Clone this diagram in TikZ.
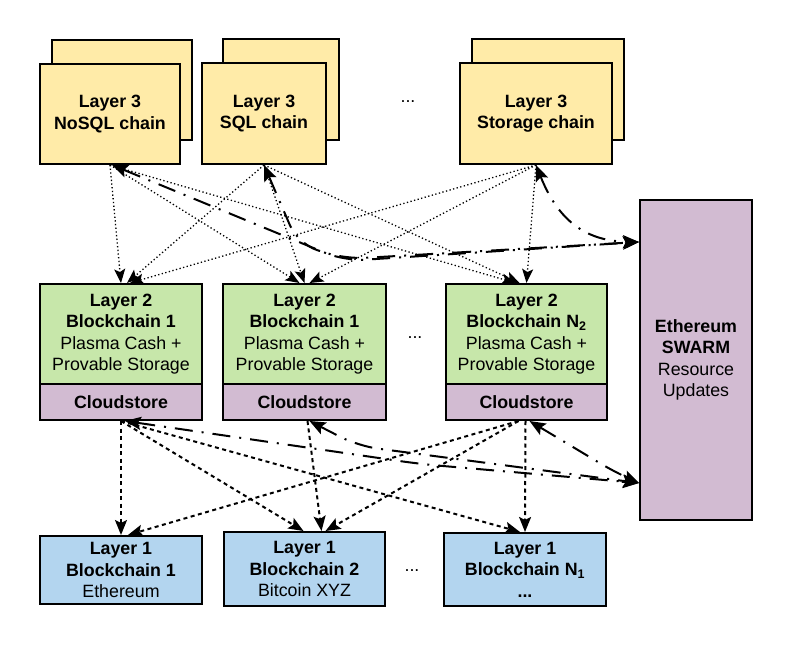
\documentclass[tikz,border=0pt]{standalone}
\usepackage{fontspec}
\setmainfont{Liberation Sans}
\usetikzlibrary{arrows.meta,calc}
\definecolor{lthree}{HTML}{FFEBA8}
\definecolor{ltwo}{HTML}{C7E7AA}
\definecolor{cstore}{HTML}{D2BBD2}
\definecolor{lone}{HTML}{B3D5EF}
\begin{document}
\begin{tikzpicture}[x=1pt,y=-1pt,
  box/.style={draw=black,line width=2pt,inner sep=0pt,align=center,text=black,
    font=\fontsize{17.8}{21.5}\selectfont},
  l3box/.style={box,fill=lthree},
  l2box/.style={box,fill=ltwo},
  csbox/.style={box,fill=cstore},
  l1box/.style={box,fill=lone},
  dots/.style={text=black,font=\fontsize{17.8}{21.5}\selectfont},
  dotl/.style={line width=1.3pt,dash pattern=on 1.3pt off 2.4pt,
    -{Stealth[length=14pt,width=11pt,inset=3pt]}},
  dashl/.style={line width=2pt,dash pattern=on 4pt off 3.5pt,
    -{Stealth[length=15pt,width=12pt,inset=3pt]}},
  ddl/.style={line width=2pt,dash pattern=on 18pt off 9pt on 2pt off 9pt,
    rounded corners=20pt,
    {Stealth[length=16pt,width=13pt,inset=3pt]}-{Stealth[length=16pt,width=13pt,inset=3pt]}}
]
\useasboundingbox[fill=white] (0,0) rectangle (792,647);

% Layer 3 back boxes
\node[l3box,minimum width=140pt,minimum height=100pt] (nosqlback) at (122,90) {};
\node[l3box,minimum width=116pt,minimum height=101pt] (sqlback) at (281,89.5) {};
\node[l3box,minimum width=152pt,minimum height=101pt] (storback) at (548,89.5) {};
% Layer 3 front boxes
\node[l3box,minimum width=140pt,minimum height=100pt] (nosql) at (110,114) {\textbf{Layer 3}\\\textbf{NoSQL chain}};
\node[l3box,minimum width=124pt,minimum height=101pt] (sql) at (264,113.5) {\textbf{Layer 3}\\\textbf{SQL chain}};
\node[l3box,minimum width=152pt,minimum height=101pt] (stor) at (536,113.5) {\textbf{Layer 3}\\\textbf{Storage chain}};
\node[dots] (dotsthree) at (408,102) {...};

% Swarm
\node[csbox,minimum width=112pt,minimum height=320pt] (swarm) at (696,360) {\textbf{Ethereum}\\\textbf{SWARM}\\Resource\\Updates};

% Layer 2
\node[l2box,minimum width=162pt,minimum height=100pt] (b1) at (121,334) {\textbf{Layer 2}\\\textbf{Blockchain 1}\\Plasma Cash +\\Provable Storage};
\node[csbox,minimum width=162pt,minimum height=36pt] (c1) at (121,402) {\textbf{Cloudstore}};
\node[l2box,minimum width=163pt,minimum height=100pt] (b2) at (304.5,334) {\textbf{Layer 2}\\\textbf{Blockchain 1}\\Plasma Cash +\\Provable Storage};
\node[csbox,minimum width=163pt,minimum height=36pt] (c2) at (304.5,402) {\textbf{Cloudstore}};
\node[l2box,minimum width=161pt,minimum height=100pt] (b3) at (526.5,334) {\textbf{Layer 2}\\\textbf{Blockchain N\textsubscript{2}}\\Plasma Cash +\\Provable Storage};
\node[csbox,minimum width=161pt,minimum height=36pt] (c3) at (526.5,402) {\textbf{Cloudstore}};
\node[dots] (dotstwo) at (415,338) {...};

% Layer 1
\node[l1box,minimum width=162pt,minimum height=68pt] (e1) at (121,570) {\textbf{Layer 1}\\\textbf{Blockchain 1}\\Ethereum};
\node[l1box,minimum width=161pt,minimum height=74pt] (e2) at (304.5,569) {\textbf{Layer 1}\\\textbf{Blockchain 2}\\Bitcoin XYZ};
\node[l1box,minimum width=162pt,minimum height=73pt] (e3) at (525,569.5) {\textbf{Layer 1}\\\textbf{Blockchain N\textsubscript{1}}\\\textbf{...}};
\node[dots] (dotsone) at (412,571) {...};

% Layer 3 -> Layer 2 (dotted)
\draw[dotl] (nosql.south) -- (b1.north);
\draw[dotl] (sql.south) -- ($(b1.north)+(6,0)$);
\draw[dotl] (stor.south) -- ($(b1.north)+(9,0)$);
\draw[dotl] (nosql.south) -- ($(b2.north)+(-5,0)$);
\draw[dotl] (sql.south) -- (b2.north);
\draw[dotl] (stor.south) -- ($(b2.north)+(5,0)$);
\draw[dotl] (nosql.south) -- ($(b3.north)+(-11,0)$);
\draw[dotl] (sql.south) -- ($(b3.north)+(-7,0)$);
\draw[dotl] (stor.south) -- (b3.north);

% Layer 3 <-> Swarm (dash-dot)
\draw[ddl] ($(nosql.south)+(2,0)$) -- (345,261) -- ($(swarm.west)+(0,-118)$);
\draw[ddl] (sql.south) -- (298,244) -- (345,259) -- ($(swarm.west)+(0,-118)$);
\draw[ddl] (stor.south) .. controls (560,225) and (590,241) .. ($(swarm.west)+(0,-118)$);

% Cloudstore -> Layer 1 (dashed)
\draw[dashl] (c1.south) -- (e1.north);
\draw[dashl] (c1.south) -- ($(e2.north)+(-1,0)$);
\draw[dashl] (c1.south) -- ($(e3.north)+(-5,0)$);
\draw[dashl] ($(c2.south)+(3,0)$) -- ($(e2.north)+(17,0)$);
\draw[dashl] ($(c3.south)+(-8,0)$) -- ($(e1.north)+(7,0)$);
\draw[dashl] ($(c3.south)+(-8,0)$) -- ($(e2.north)+(21,0)$);
\draw[dashl] ($(c3.south)+(-1,0)$) -- (e3.north);

% Cloudstore <-> Swarm (dash-dot)
\draw[ddl] ($(c1.south)+(4,0)$) -- (420,464) -- ($(swarm.west)+(0,123)$);
\draw[ddl] ($(c2.south)+(5,0)$) -- (358,446) -- ($(swarm.west)+(0,123)$);
\draw[ddl] ($(c3.south)+(3,0)$) -- (618,474) -- ($(swarm.west)+(0,123)$);
\end{tikzpicture}
\end{document}
